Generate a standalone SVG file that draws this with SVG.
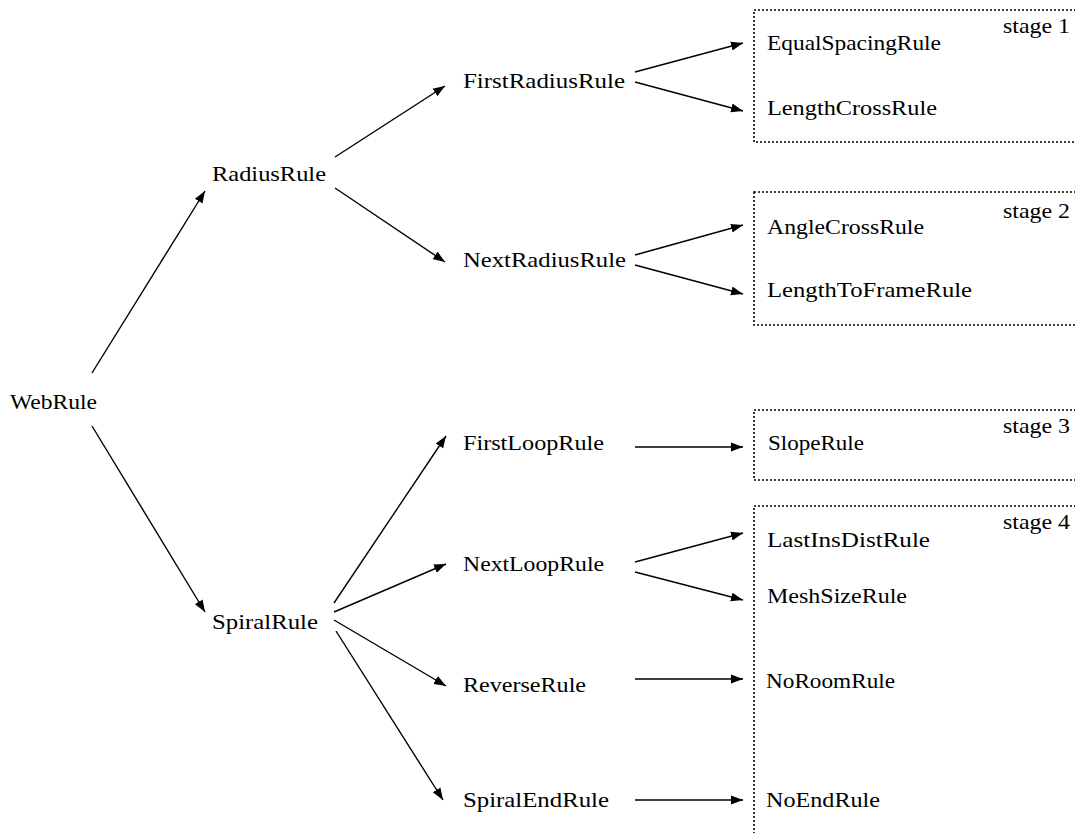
<svg xmlns="http://www.w3.org/2000/svg" width="1075" height="833" viewBox="0 0 1075 833">
<style>
text{font-family:"Liberation Serif","Times New Roman",serif;font-size:21px;fill:#000}
.c line{stroke:#000;stroke-width:1.4;marker-end:url(#ah)}
.box{fill:none;stroke:#000;stroke-width:1.6;stroke-dasharray:2 2}
</style>
<defs>
<marker id="ah" markerUnits="userSpaceOnUse" markerWidth="13" markerHeight="10" refX="12" refY="5" orient="auto">
<path d="M0,0.5 L12,5 L0,9.5 z" fill="#000"/>
</marker>
</defs>
<rect width="1075" height="833" fill="#fff"/>
<g id="stage1"><rect class="box" x="754" y="10" width="400" height="132"/><text x="1003" y="33" textLength="67" lengthAdjust="spacingAndGlyphs">stage 1</text></g>
<g id="stage2"><rect class="box" x="754" y="192" width="400" height="133"/><text x="1003" y="218" textLength="67" lengthAdjust="spacingAndGlyphs">stage 2</text></g>
<g id="stage3"><rect class="box" x="754" y="410" width="400" height="70"/><text x="1003" y="433" textLength="67" lengthAdjust="spacingAndGlyphs">stage 3</text></g>
<g id="stage4"><path class="box" d="M1080,506 H754 V840"/><text x="1003" y="529" textLength="67" lengthAdjust="spacingAndGlyphs">stage 4</text></g>
<g class="c" id="connectors">
<line x1="92" y1="373" x2="205" y2="191"/>
<line x1="92" y1="426" x2="205" y2="612"/>
<line x1="335" y1="157" x2="445" y2="86"/>
<line x1="335" y1="188" x2="445" y2="262"/>
<line x1="635" y1="72" x2="743" y2="43"/>
<line x1="635" y1="82" x2="743" y2="111"/>
<line x1="635" y1="255" x2="743" y2="225"/>
<line x1="635" y1="265" x2="743" y2="294"/>
<line x1="334" y1="603" x2="446" y2="436"/>
<line x1="334" y1="612" x2="446" y2="564"/>
<line x1="334" y1="620" x2="446" y2="686"/>
<line x1="336" y1="631" x2="443" y2="800"/>
<line x1="635" y1="447" x2="743" y2="447"/>
<line x1="635" y1="562" x2="743" y2="533"/>
<line x1="635" y1="572" x2="743" y2="600"/>
<line x1="635" y1="679" x2="743" y2="679"/>
<line x1="635" y1="800" x2="743" y2="800"/>
</g>
<g id="WebRule"><text x="10" y="409" textLength="87" lengthAdjust="spacingAndGlyphs">WebRule</text></g>
<g id="RadiusRule"><text x="212" y="181" textLength="114" lengthAdjust="spacingAndGlyphs">RadiusRule</text></g>
<g id="SpiralRule"><text x="212" y="629" textLength="106" lengthAdjust="spacingAndGlyphs">SpiralRule</text></g>
<g id="FirstRadiusRule"><text x="463" y="88" textLength="162" lengthAdjust="spacingAndGlyphs">FirstRadiusRule</text></g>
<g id="NextRadiusRule"><text x="463" y="267" textLength="163" lengthAdjust="spacingAndGlyphs">NextRadiusRule</text></g>
<g id="FirstLoopRule"><text x="463" y="450" textLength="141" lengthAdjust="spacingAndGlyphs">FirstLoopRule</text></g>
<g id="NextLoopRule"><text x="463" y="571" textLength="141" lengthAdjust="spacingAndGlyphs">NextLoopRule</text></g>
<g id="ReverseRule"><text x="463" y="692" textLength="123" lengthAdjust="spacingAndGlyphs">ReverseRule</text></g>
<g id="SpiralEndRule"><text x="463" y="807" textLength="146" lengthAdjust="spacingAndGlyphs">SpiralEndRule</text></g>
<g id="EqualSpacingRule"><text x="767" y="50" textLength="174" lengthAdjust="spacingAndGlyphs">EqualSpacingRule</text></g>
<g id="LengthCrossRule"><text x="767" y="115" textLength="170" lengthAdjust="spacingAndGlyphs">LengthCrossRule</text></g>
<g id="AngleCrossRule"><text x="767" y="234" textLength="157" lengthAdjust="spacingAndGlyphs">AngleCrossRule</text></g>
<g id="LengthToFrameRule"><text x="767" y="297" textLength="205" lengthAdjust="spacingAndGlyphs">LengthToFrameRule</text></g>
<g id="SlopeRule"><text x="768" y="450" textLength="96" lengthAdjust="spacingAndGlyphs">SlopeRule</text></g>
<g id="LastInsDistRule"><text x="767" y="547" textLength="163" lengthAdjust="spacingAndGlyphs">LastInsDistRule</text></g>
<g id="MeshSizeRule"><text x="767" y="603" textLength="140" lengthAdjust="spacingAndGlyphs">MeshSizeRule</text></g>
<g id="NoRoomRule"><text x="766" y="688" textLength="129" lengthAdjust="spacingAndGlyphs">NoRoomRule</text></g>
<g id="NoEndRule"><text x="766" y="807" textLength="114" lengthAdjust="spacingAndGlyphs">NoEndRule</text></g>
</svg>
